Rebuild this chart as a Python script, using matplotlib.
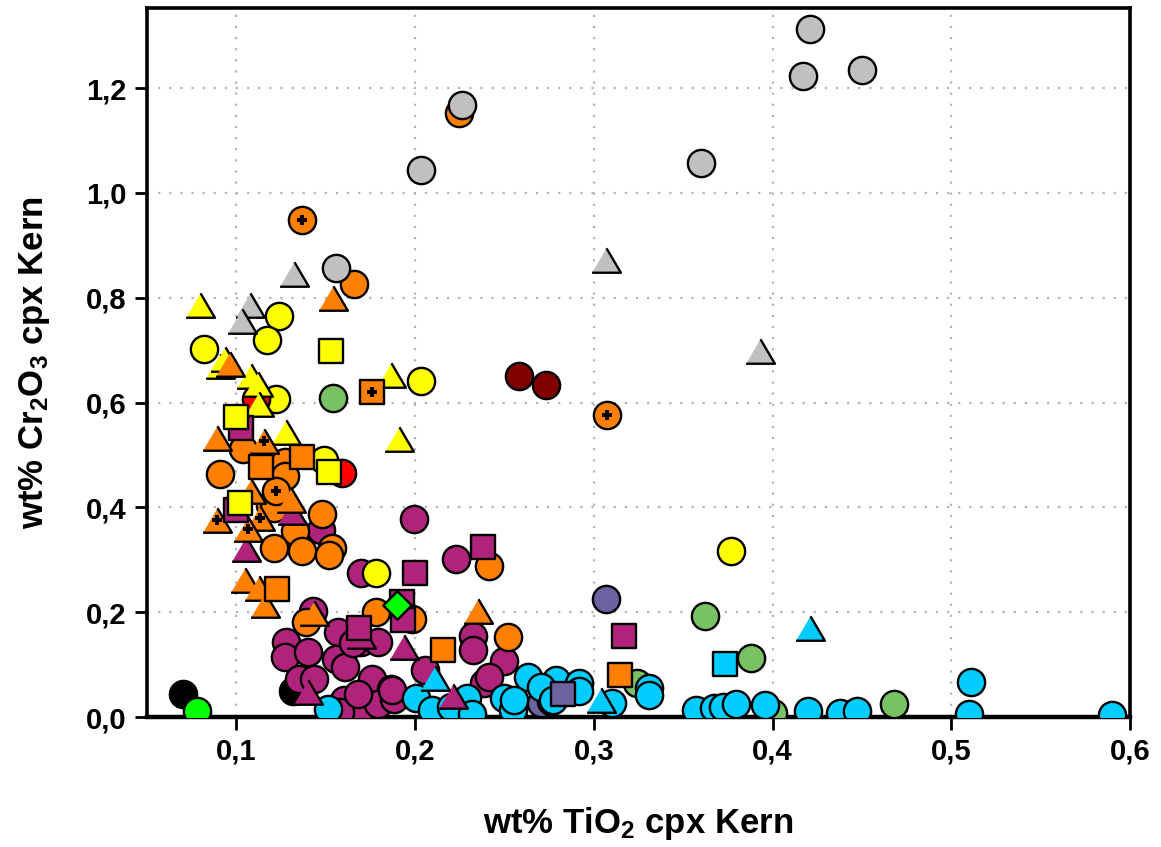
import matplotlib
matplotlib.use("Agg")
import matplotlib.pyplot as plt
from matplotlib.ticker import FuncFormatter

plt.rcParams['font.family'] = ['Liberation Sans', 'DejaVu Sans']
plt.rcParams['font.weight'] = 'bold'
plt.rcParams['mathtext.fontset'] = 'custom'
plt.rcParams['mathtext.rm'] = 'Liberation Sans:bold'
plt.rcParams['mathtext.default'] = 'rm'

# --- Daten (wt% TiO2, wt% Cr2O3) ---
grey_c_x = [0.421, 0.417, 0.450, 0.360, 0.226, 0.2034, 0.1558]
grey_c_y = [1.312, 1.224, 1.234, 1.058, 1.167, 1.044, 0.856]
grey_t_x = [0.1325, 0.1074, 0.1033, 0.307, 0.393]
grey_t_y = [0.845, 0.787, 0.756, 0.872, 0.699]

orange_c_x = [0.0907, 0.1035, 0.127, 0.127, 0.1186, 0.121, 0.148, 0.133, 0.121, 0.137,
              0.1535, 0.152, 0.139, 0.178, 0.1985, 0.2413, 0.2519, 0.166, 0.2245]
orange_c_y = [0.463, 0.511, 0.486, 0.459, 0.404, 0.398, 0.387, 0.355, 0.322, 0.317,
              0.322, 0.309, 0.181, 0.201, 0.187, 0.288, 0.153, 0.827, 1.153]
orange_cp_x = [0.137, 0.3076, 0.122]
orange_cp_y = [0.949, 0.577, 0.432]
orange_t_x = [0.154, 0.0965, 0.089, 0.108, 0.1307, 0.1046, 0.1125, 0.116, 0.1437, 0.235]
orange_t_y = [0.800, 0.673, 0.533, 0.432, 0.414, 0.261, 0.246, 0.213, 0.199, 0.202]
orange_tp_x = [0.1154, 0.089, 0.113, 0.1065]
orange_tp_y = [0.527, 0.376, 0.379, 0.358]
orange_s_x = [0.114, 0.137, 0.1229, 0.2158, 0.3144]
orange_s_y = [0.478, 0.497, 0.244, 0.127, 0.081]
orange_sp_x = [0.1757]
orange_sp_y = [0.620]

yellow_c_x = [0.124, 0.117, 0.0818, 0.122, 0.2035, 0.149, 0.178, 0.377]
yellow_c_y = [0.766, 0.719, 0.702, 0.606, 0.641, 0.491, 0.275, 0.317]
yellow_t_x = [0.0797, 0.0907, 0.0939, 0.108, 0.112, 0.1125, 0.1864, 0.128, 0.191]
yellow_t_y = [0.787, 0.670, 0.684, 0.651, 0.635, 0.597, 0.652, 0.543, 0.530]
yellow_s_x = [0.153, 0.0996, 0.102, 0.152]
yellow_s_y = [0.698, 0.573, 0.408, 0.468]

red_x = [0.111, 0.159]
red_y = [0.606, 0.465]
darkred_x = [0.258, 0.273]
darkred_y = [0.651, 0.634]
olive_x = [0.154, 0.362, 0.388, 0.324, 0.400, 0.468]
olive_y = [0.608, 0.192, 0.113, 0.065, 0.008, 0.025]
lime_c_x = [0.0777]
lime_c_y = [0.012]
lime_d_x = [0.1897]
lime_d_y = [0.213]
black_x = [0.0703, 0.1316]
black_y = [0.044, 0.050]
slate_c_x = [0.307, 0.2705, 0.276]
slate_c_y = [0.226, 0.027, 0.030]
slate_s_x = [0.2826]
slate_s_y = [0.043]

purple_c_x = [0.1474, 0.1995, 0.1697, 0.223, 0.1428, 0.1279, 0.127, 0.140, 0.1353, 0.1437,
              0.1567, 0.1697, 0.179, 0.1558, 0.161, 0.176, 0.1864, 0.1604, 0.1697, 0.179,
              0.1883, 0.2054, 0.158, 0.168, 0.2323, 0.2323, 0.250, 0.2388, 0.2416, 0.187, 0.165]
purple_c_y = [0.356, 0.378, 0.275, 0.301, 0.203, 0.143, 0.114, 0.124, 0.073, 0.073,
              0.162, 0.143, 0.143, 0.111, 0.095, 0.073, 0.054, 0.032, 0.016, 0.025,
              0.035, 0.090, 0.010, 0.044, 0.154, 0.128, 0.106, 0.064, 0.077, 0.052, 0.142]
purple_t_x = [0.1056, 0.131, 0.194, 0.140, 0.1697, 0.221]
purple_t_y = [0.321, 0.392, 0.133, 0.048, 0.154, 0.040]
purple_s_x = [0.1024, 0.100, 0.200, 0.2379, 0.1929, 0.193, 0.1688, 0.3168]
purple_s_y = [0.552, 0.395, 0.275, 0.324, 0.219, 0.186, 0.169, 0.155]

cyan_c_x = [0.151, 0.2003, 0.2097, 0.220, 0.229, 0.232, 0.250, 0.255, 0.263, 0.279,
            0.2917, 0.2917, 0.2705, 0.2556, 0.277, 0.310, 0.331, 0.331, 0.357, 0.367,
            0.372, 0.3795, 0.396, 0.420, 0.438, 0.447, 0.511, 0.510, 0.590]
cyan_c_y = [0.016, 0.036, 0.013, 0.020, 0.036, 0.006, 0.036, 0.013, 0.077, 0.070,
            0.065, 0.049, 0.058, 0.032, 0.032, 0.026, 0.056, 0.042, 0.013, 0.017,
            0.019, 0.025, 0.022, 0.011, 0.008, 0.011, 0.066, 0.006, 0.004]
cyan_t_x = [0.421, 0.304, 0.211]
cyan_t_y = [0.169, 0.032, 0.075]
cyan_s_x = [0.3735]
cyan_s_y = [0.102]

ORANGE = '#FF8000'
YELLOW = '#FFFF00'
GREY = '#C0C0C0'
PURPLE = '#B0237A'
CYAN = '#00CCFF'
OLIVE = '#78C264'
SLATE = '#6C62A0'

tri = [(-1, -0.85), (1, -0.85), (0, 0.85)]
S_C, S_T, S_S = 385, 430, 320

fig = plt.figure(figsize=(11.61, 8.47), dpi=100)
ax = fig.add_axes([147/1161, 130/847, 983/1161, 709/847])

def pts(x, y, c, m, s):
    ax.scatter(x, y, s=s, c=c, marker=m, edgecolors='black', linewidths=1.7, zorder=3)

pts(black_x, black_y, 'black', 'o', S_C)
pts(lime_c_x, lime_c_y, '#00FF00', 'o', S_C)
pts(purple_c_x, purple_c_y, PURPLE, 'o', S_C)
pts(orange_c_x, orange_c_y, ORANGE, 'o', S_C)
pts(orange_cp_x, orange_cp_y, ORANGE, 'o', S_C)
pts(yellow_c_x, yellow_c_y, YELLOW, 'o', S_C)
pts(red_x, red_y, '#FF0000', 'o', S_C)
pts(darkred_x, darkred_y, '#800000', 'o', S_C)
pts(grey_c_x, grey_c_y, GREY, 'o', S_C)
pts(olive_x, olive_y, OLIVE, 'o', S_C)
pts(slate_c_x, slate_c_y, SLATE, 'o', S_C)
pts(cyan_c_x, cyan_c_y, CYAN, 'o', S_C)
pts(purple_t_x, purple_t_y, PURPLE, tri, S_T)
pts(yellow_t_x, yellow_t_y, YELLOW, tri, S_T)
pts(orange_t_x, orange_t_y, ORANGE, tri, S_T)
pts(orange_tp_x, orange_tp_y, ORANGE, tri, S_T)
pts(grey_t_x, grey_t_y, GREY, tri, S_T)
pts(cyan_t_x, cyan_t_y, CYAN, tri, S_T)
pts(purple_s_x, purple_s_y, PURPLE, 's', S_S)
pts(orange_s_x, orange_s_y, ORANGE, 's', S_S)
pts(orange_sp_x, orange_sp_y, ORANGE, 's', S_S)
pts(yellow_s_x, yellow_s_y, YELLOW, 's', S_S)
pts(slate_s_x, slate_s_y, SLATE, 's', S_S)
pts(cyan_s_x, cyan_s_y, CYAN, 's', S_S)
pts(lime_d_x, lime_d_y, '#00FF00', 'D', 210)

# kleine Kreuze in den markierten Symbolen
for px, py in [(orange_cp_x, orange_cp_y), (orange_tp_x, orange_tp_y), (orange_sp_x, orange_sp_y)]:
    ax.scatter(px, py, s=50, marker='+', c='black', linewidths=2.8, zorder=4)

ax.set_xlim(0.05, 0.6)
ax.set_ylim(0, 1.353)
ax.set_xticks([0.1, 0.2, 0.3, 0.4, 0.5, 0.6])
ax.set_yticks([0.0, 0.2, 0.4, 0.6, 0.8, 1.0, 1.2])
fmt = FuncFormatter(lambda v, p: f"{v:.1f}".replace('.', ','))
ax.xaxis.set_major_formatter(fmt)
ax.yaxis.set_major_formatter(fmt)
ax.tick_params(axis='both', direction='out', length=9, width=2, labelsize=21, pad=6)
for lab in ax.get_xticklabels() + ax.get_yticklabels():
    lab.set_fontweight('bold')

ax.grid(True, color='#B4B4B4', linestyle=(0, (1, 4)), linewidth=1.6, zorder=0)
ax.set_axisbelow(True)
for side in ['left', 'right', 'top']:
    ax.spines[side].set_linewidth(2.6)
ax.spines['bottom'].set_linewidth(3.2)

ax.set_xlabel('wt% TiO$_2$ cpx Kern', fontsize=25, fontweight='bold', labelpad=28)
ax.set_ylabel('wt% Cr$_2$O$_3$ cpx Kern', fontsize=25, fontweight='bold', labelpad=24)

plt.savefig("out.png", dpi=100)
